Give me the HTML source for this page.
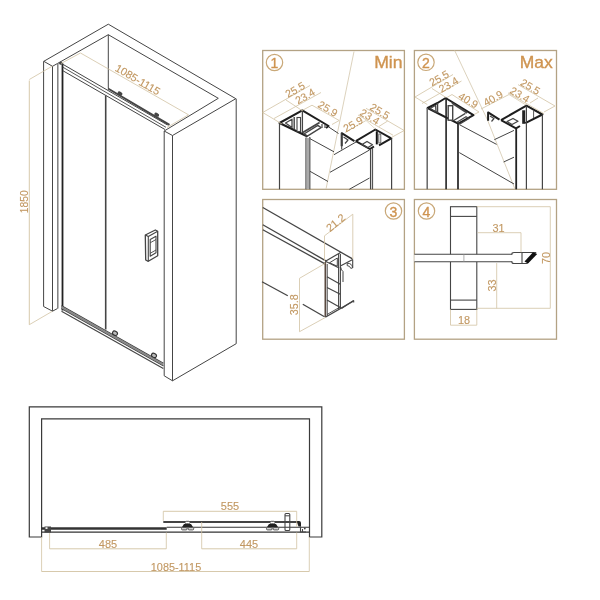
<!DOCTYPE html>
<html><head><meta charset="utf-8"><style>
html,body{margin:0;padding:0;background:#fff;}
svg{display:block;filter:blur(0.35px);}
text{font-family:"Liberation Sans",sans-serif;}
</style></head><body>
<svg width="600" height="600" viewBox="0 0 600 600">
<rect width="600" height="600" fill="#fff"/>
<polyline points="43.8,61.3 108.3,24.2 235.8,98.7" stroke="#454545" stroke-width="1.0" fill="none" stroke-linejoin="round"/>
<polyline points="52.5,66.3 108.3,34.7 218.3,98.3 164.2,131" stroke="#454545" stroke-width="1.0" fill="none" stroke-linejoin="round"/>
<line x1="43.8" y1="61.3" x2="52.5" y2="66.3" stroke="#454545" stroke-width="1.0"/>
<polyline points="164.2,131 172.5,135.5 235.8,98.7" stroke="#454545" stroke-width="1.0" fill="none" stroke-linejoin="round"/>
<line x1="108.3" y1="34.7" x2="108.3" y2="88" stroke="#454545" stroke-width="1.0"/>
<line x1="43.6" y1="61.3" x2="43.6" y2="306.5" stroke="#454545" stroke-width="1.0"/>
<line x1="52.5" y1="66.3" x2="52.5" y2="311.2" stroke="#454545" stroke-width="1.0"/>
<polyline points="43.6,306.5 52.5,311.2 57.5,308.5" stroke="#454545" stroke-width="1.0" fill="none" stroke-linejoin="round"/>
<line x1="57.8" y1="63" x2="57.8" y2="308.5" stroke="#777" stroke-width="1.4"/>
<line x1="62.5" y1="63.5" x2="62.5" y2="310.5" stroke="#222" stroke-width="1.8"/>
<line x1="164.2" y1="131" x2="164.2" y2="375.8" stroke="#454545" stroke-width="1.0"/>
<line x1="172.5" y1="135.5" x2="172.5" y2="380.8" stroke="#454545" stroke-width="1.0"/>
<line x1="236.2" y1="98.7" x2="236.2" y2="343.7" stroke="#454545" stroke-width="1.0"/>
<polyline points="164.2,375.8 172.5,380.8 236.2,343.7" stroke="#454545" stroke-width="1.0" fill="none" stroke-linejoin="round"/>
<line x1="61.5" y1="63.5" x2="167.5" y2="125.0" stroke="#454545" stroke-width="1.0"/>
<line x1="62.5" y1="67.0" x2="166.0" y2="127.3" stroke="#454545" stroke-width="0.9"/>
<line x1="63.0" y1="70.8" x2="165.0" y2="129.5" stroke="#454545" stroke-width="1.0"/>
<line x1="108" y1="88.5" x2="169.5" y2="124.8" stroke="#454545" stroke-width="2.0"/>
<circle cx="60.8" cy="63.2" r="1.6" fill="#454545"/>
<ellipse cx="120" cy="93.5" rx="2.6" ry="1.8" fill="#454545" transform="rotate(30 120 93.5)"/>
<ellipse cx="156.7" cy="114.7" rx="2.6" ry="1.8" fill="#454545" transform="rotate(30 156.7 114.7)"/>
<line x1="105.7" y1="95.5" x2="105.7" y2="329.5" stroke="#454545" stroke-width="1.6"/>
<line x1="61.5" y1="305.8" x2="163.3" y2="363.2" stroke="#333" stroke-width="1.3"/>
<line x1="61.5" y1="308.4" x2="163.3" y2="365.8" stroke="#333" stroke-width="1.3"/>
<line x1="61.5" y1="311.2" x2="163.3" y2="368.6" stroke="#454545" stroke-width="1.1"/>
<polygon points="61.5,305.8 163.3,363.2 163.3,365.8 61.5,308.4" fill="#888"/>
<ellipse cx="115" cy="333.2" rx="2.6" ry="2.0" fill="#bbb" stroke="#333" stroke-width="1.1" transform="rotate(30 115 333.2)"/>
<ellipse cx="154" cy="355.4" rx="2.6" ry="2.0" fill="#bbb" stroke="#333" stroke-width="1.1" transform="rotate(30 154 355.4)"/>
<polygon points="145.3,235 155.3,230 157.7,231.3 157.7,255.7 148.3,261.3 145.7,260" stroke="#454545" stroke-width="1.3" fill="none" stroke-linejoin="round"/>
<polyline points="145.3,235 148.3,236.6 157.7,231.3" stroke="#454545" stroke-width="1.1" fill="none" stroke-linejoin="round"/>
<line x1="148.3" y1="236.6" x2="148.3" y2="261.3" stroke="#454545" stroke-width="1.1"/>
<polygon points="150.2,239.5 156,236.2 156,252.8 150.2,256.2" stroke="#454545" stroke-width="1.1" fill="none" stroke-linejoin="round"/>
<line x1="150.2" y1="253.3" x2="156" y2="250" stroke="#454545" stroke-width="0.9"/>
<line x1="150.2" y1="242.8" x2="156" y2="239.5" stroke="#454545" stroke-width="0.9"/>
<line x1="29.3" y1="80.5" x2="29.3" y2="324.7" stroke="#d2c3a3" stroke-width="0.9"/>
<line x1="29.3" y1="79.5" x2="52.5" y2="66" stroke="#d2c3a3" stroke-width="0.8"/>
<line x1="29.3" y1="324.7" x2="52.5" y2="311.2" stroke="#d2c3a3" stroke-width="0.8"/>
<text x="24.5" y="201.8" font-size="10.3" fill="#c29862" stroke="#c29862" stroke-width="0.12" text-anchor="middle" dominant-baseline="central" transform="rotate(-90 24.5 201.8)">1850</text>
<line x1="80.5" y1="53" x2="188.5" y2="114.8" stroke="#d2c3a3" stroke-width="0.8"/>
<line x1="188.5" y1="114.8" x2="167" y2="127.5" stroke="#d2c3a3" stroke-width="0.8"/>
<line x1="80.5" y1="53" x2="61" y2="63.5" stroke="#d2c3a3" stroke-width="0.8"/>
<text x="114.3" y="70.2" font-size="10.8" fill="#c29862" stroke="#c29862" stroke-width="0.12" transform="rotate(30.5 114.3 70.2)">1085-1115</text>
<rect x="262.7" y="50.5" width="141.7" height="138.8" fill="none" stroke="#b3a284" stroke-width="1.3"/>
<rect x="414.4" y="50.5" width="142.10000000000002" height="138.8" fill="none" stroke="#b3a284" stroke-width="1.3"/>
<rect x="262.7" y="199.5" width="141.7" height="139.7" fill="none" stroke="#b3a284" stroke-width="1.3"/>
<rect x="414.4" y="199.5" width="142.10000000000002" height="139.7" fill="none" stroke="#b3a284" stroke-width="1.3"/>
<circle cx="274.5" cy="62.5" r="8.2" fill="none" stroke="#c9a878" stroke-width="1.2"/>
<text x="274.5" y="68.1" font-size="14" fill="#cf9450" stroke="#cf9450" stroke-width="0.35" text-anchor="middle">1</text>
<circle cx="426" cy="62.3" r="8.2" fill="none" stroke="#c9a878" stroke-width="1.2"/>
<text x="426" y="67.89999999999999" font-size="14" fill="#cf9450" stroke="#cf9450" stroke-width="0.35" text-anchor="middle">2</text>
<circle cx="393.5" cy="211" r="8.2" fill="none" stroke="#c9a878" stroke-width="1.2"/>
<text x="393.5" y="216.6" font-size="14" fill="#cf9450" stroke="#cf9450" stroke-width="0.35" text-anchor="middle">3</text>
<circle cx="426.5" cy="211" r="8.2" fill="none" stroke="#c9a878" stroke-width="1.2"/>
<text x="426.5" y="216.6" font-size="14" fill="#cf9450" stroke="#cf9450" stroke-width="0.35" text-anchor="middle">4</text>
<text x="374.2" y="68" font-size="16.4" fill="#cf9450" stroke="#cf9450" stroke-width="0.35" textLength="28.4" lengthAdjust="spacingAndGlyphs">Min</text>
<text x="519.8" y="68" font-size="16.4" fill="#cf9450" stroke="#cf9450" stroke-width="0.35" textLength="33" lengthAdjust="spacingAndGlyphs">Max</text>
<line x1="354" y1="51.5" x2="326" y2="189" stroke="#d8cdb5" stroke-width="0.9"/>
<polyline points="307.5,136.5 279.5,123 302.3,110.4 328.6,126 326,128" stroke="#1e1e1e" stroke-width="2.0" fill="none" stroke-linejoin="round"/>
<polygon points="285.5,123 292,119.2 292,127.5" stroke="#454545" stroke-width="1.3" fill="none" stroke-linejoin="round"/>
<line x1="294.2" y1="117" x2="294.2" y2="129.5" stroke="#454545" stroke-width="1.4"/>
<rect x="297" y="117.5" width="3.5" height="14" fill="#fff" stroke="#454545" stroke-width="1.1"/>
<line x1="302.4" y1="110.5" x2="302.4" y2="133" stroke="#454545" stroke-width="1.3"/>
<line x1="319.6" y1="122.4" x2="302.8" y2="132.6" stroke="#454545" stroke-width="1.8"/>
<polygon points="304,134 317.8,125.4 321,127.6 307.4,136.2" stroke="#454545" stroke-width="1.4" fill="none" stroke-linejoin="round"/>
<line x1="322" y1="124" x2="322" y2="128" stroke="#454545" stroke-width="1.2"/>
<line x1="325" y1="124.5" x2="325" y2="128" stroke="#454545" stroke-width="1.2"/>
<line x1="279.5" y1="123" x2="279.5" y2="189.3" stroke="#454545" stroke-width="1.2"/>
<line x1="306" y1="137.5" x2="306" y2="189.3" stroke="#454545" stroke-width="1.2"/>
<line x1="309.8" y1="137" x2="309.8" y2="189.3" stroke="#454545" stroke-width="1.2"/>
<rect x="306.6" y="138" width="2.6" height="51" fill="#aaa"/>
<line x1="310" y1="138.7" x2="334" y2="151.8" stroke="#454545" stroke-width="1.0"/>
<line x1="310" y1="171.3" x2="328" y2="181.5" stroke="#454545" stroke-width="1.0"/>
<line x1="328.7" y1="127" x2="338.5" y2="133.5" stroke="#454545" stroke-width="1.0"/>
<polyline points="341.7,146.3 341.7,133.2 354.4,141.2" stroke="#1e1e1e" stroke-width="2.0" fill="none" stroke-linejoin="round"/>
<polyline points="343.5,137 348,140 345,143.5" stroke="#454545" stroke-width="1.2" fill="none" stroke-linejoin="round"/>
<line x1="341.7" y1="133.2" x2="341.7" y2="149.5" stroke="#454545" stroke-width="1.1"/>
<polyline points="355.8,141.2 375.4,129.5 391.3,138.4 379,145.4" stroke="#1e1e1e" stroke-width="2.0" fill="none" stroke-linejoin="round"/>
<polyline points="355.8,141.2 369.8,149 374,146.5" stroke="#1e1e1e" stroke-width="2.0" fill="none" stroke-linejoin="round"/>
<polygon points="362,144.5 367,141.5 372.5,144.8 367.5,147.8" stroke="#454545" stroke-width="1.3" fill="none" stroke-linejoin="round"/>
<line x1="376.8" y1="131.3" x2="376.8" y2="144.4" stroke="#111" stroke-width="2.0"/>
<rect x="378.8" y="134" width="2" height="9" fill="#fff" stroke="#555" stroke-width="0.9"/>
<line x1="370.6" y1="149" x2="370.6" y2="189.3" stroke="#454545" stroke-width="1.3"/>
<line x1="372.6" y1="148" x2="372.6" y2="189.3" stroke="#454545" stroke-width="1.0"/>
<line x1="391.6" y1="138.4" x2="391.6" y2="189.3" stroke="#454545" stroke-width="1.2"/>
<line x1="334" y1="154.7" x2="356" y2="142" stroke="#454545" stroke-width="1.0"/>
<line x1="330" y1="172.3" x2="369.5" y2="150" stroke="#454545" stroke-width="1.0"/>
<line x1="349.3" y1="189.3" x2="369.5" y2="178" stroke="#454545" stroke-width="1.0"/>
<line x1="262.7" y1="112.5" x2="310" y2="85.5" stroke="#d2c3a3" stroke-width="0.8"/>
<line x1="274" y1="118.5" x2="321" y2="92.5" stroke="#d2c3a3" stroke-width="0.8"/>
<line x1="262.7" y1="112.5" x2="282" y2="124" stroke="#d2c3a3" stroke-width="0.8"/>
<line x1="286" y1="100" x2="302" y2="110.5" stroke="#d2c3a3" stroke-width="0.8"/>
<line x1="297" y1="107" x2="312" y2="104.5" stroke="#d2c3a3" stroke-width="0"/>
<line x1="312" y1="105.2" x2="339.2" y2="120.5" stroke="#d2c3a3" stroke-width="0.8"/>
<line x1="312" y1="105.2" x2="301.6" y2="110.8" stroke="#d2c3a3" stroke-width="0.8"/>
<line x1="339.2" y1="120.5" x2="332" y2="124.5" stroke="#d2c3a3" stroke-width="0.8"/>
<text x="295" y="89.5" font-size="10.6" fill="#c29862" stroke="#c29862" stroke-width="0.12" text-anchor="middle" dominant-baseline="central" transform="rotate(-30 295 89.5)">25.5</text>
<text x="305" y="96" font-size="10.6" fill="#c29862" stroke="#c29862" stroke-width="0.12" text-anchor="middle" dominant-baseline="central" transform="rotate(-30 305 96)">23.4</text>
<text x="328" y="108.5" font-size="10.6" fill="#c29862" stroke="#c29862" stroke-width="0.12" text-anchor="middle" dominant-baseline="central" transform="rotate(30 328 108.5)">25.9</text>
<line x1="345" y1="132.5" x2="366" y2="120.5" stroke="#d2c3a3" stroke-width="0.8"/>
<line x1="366" y1="120.5" x2="375.7" y2="129.3" stroke="#d2c3a3" stroke-width="0.6"/>
<line x1="366" y1="108.3" x2="404.2" y2="130.5" stroke="#d2c3a3" stroke-width="0.8"/>
<line x1="358" y1="115" x2="393" y2="135.2" stroke="#d2c3a3" stroke-width="0.8"/>
<line x1="379" y1="126.4" x2="387.7" y2="121" stroke="#d2c3a3" stroke-width="0.8"/>
<line x1="391.4" y1="137.5" x2="404.2" y2="130.5" stroke="#d2c3a3" stroke-width="0.8"/>
<text x="353" y="124" font-size="10.6" fill="#c29862" stroke="#c29862" stroke-width="0.12" text-anchor="middle" dominant-baseline="central" transform="rotate(-30 353 124)">25.9</text>
<text x="370" y="116.5" font-size="10.6" fill="#c29862" stroke="#c29862" stroke-width="0.12" text-anchor="middle" dominant-baseline="central" transform="rotate(30 370 116.5)">23.4</text>
<text x="380" y="111" font-size="10.6" fill="#c29862" stroke="#c29862" stroke-width="0.12" text-anchor="middle" dominant-baseline="central" transform="rotate(30 380 111)">25.5</text>
<line x1="454.7" y1="50.5" x2="487.5" y2="120" stroke="#d8cdb5" stroke-width="0.9"/>
<line x1="487.5" y1="120" x2="515" y2="189.3" stroke="#d8cdb5" stroke-width="0.9"/>
<polyline points="458.2,123.7 427.6,108 437.5,103 445.6,98 473.5,115.2 458.2,123.7" stroke="#1e1e1e" stroke-width="2.0" fill="none" stroke-linejoin="round"/>
<polygon points="430,108.5 435.5,105.5 436,112" stroke="#454545" stroke-width="1.2" fill="none" stroke-linejoin="round"/>
<line x1="437.5" y1="103" x2="437.5" y2="113" stroke="#454545" stroke-width="1.5"/>
<line x1="446.1" y1="98" x2="446.1" y2="189.3" stroke="#222" stroke-width="1.6"/>
<rect x="448.2" y="105.7" width="4.5" height="14.5" fill="#fff" stroke="#454545" stroke-width="1.4"/>
<line x1="452" y1="103" x2="467.2" y2="113" stroke="#454545" stroke-width="1.8"/>
<line x1="453.7" y1="120.5" x2="465.4" y2="113.4" stroke="#454545" stroke-width="1.3"/>
<polygon points="457.3,122 466,116.7 469,118.5 460.3,123.8" stroke="#454545" stroke-width="1.2" fill="none" stroke-linejoin="round"/>
<line x1="427.2" y1="108" x2="427.2" y2="189.3" stroke="#666" stroke-width="1.5"/>
<line x1="458" y1="123.7" x2="458" y2="189.3" stroke="#222" stroke-width="1.7"/>
<line x1="459.3" y1="124.6" x2="496.6" y2="144.4" stroke="#454545" stroke-width="1.0"/>
<line x1="459.3" y1="152.6" x2="514" y2="184" stroke="#454545" stroke-width="1.0"/>
<line x1="494.3" y1="139.7" x2="514" y2="130.4" stroke="#454545" stroke-width="1.0"/>
<line x1="503.6" y1="162" x2="514" y2="157.2" stroke="#454545" stroke-width="1.0"/>
<polyline points="488.1,120.7 488.1,112.4 499.5,119.6" stroke="#1e1e1e" stroke-width="2.0" fill="none" stroke-linejoin="round"/>
<polyline points="490,116 494,118.5 491.5,121.5" stroke="#454545" stroke-width="1.2" fill="none" stroke-linejoin="round"/>
<polyline points="501,120.1 526.4,105.7 542.4,114.5 525.3,123.2" stroke="#1e1e1e" stroke-width="2.0" fill="none" stroke-linejoin="round"/>
<polyline points="501,120.1 516,128.4 520,126" stroke="#1e1e1e" stroke-width="2.0" fill="none" stroke-linejoin="round"/>
<polygon points="507,121.5 513,118.5 518,121.3 512,124.5" stroke="#454545" stroke-width="1.3" fill="none" stroke-linejoin="round"/>
<rect x="522.2" y="110.3" width="3" height="13.5" fill="#222"/>
<line x1="526.4" y1="105.7" x2="526.4" y2="189.3" stroke="#454545" stroke-width="1.2"/>
<line x1="533.6" y1="111" x2="533.6" y2="118" stroke="#555" stroke-width="1.0"/>
<line x1="516.2" y1="128.4" x2="516.2" y2="189.3" stroke="#222" stroke-width="1.8"/>
<line x1="542.4" y1="114.5" x2="542.4" y2="189.3" stroke="#454545" stroke-width="1.2"/>
<line x1="415" y1="97" x2="453" y2="74.5" stroke="#d2c3a3" stroke-width="0.8"/>
<line x1="422" y1="103.5" x2="461.5" y2="81" stroke="#d2c3a3" stroke-width="0.8"/>
<line x1="415" y1="97" x2="427.3" y2="104.5" stroke="#d2c3a3" stroke-width="0.8"/>
<line x1="446" y1="92" x2="446" y2="98" stroke="#d2c3a3" stroke-width="0"/>
<line x1="432" y1="88.5" x2="446" y2="97.5" stroke="#d2c3a3" stroke-width="0.8"/>
<line x1="452" y1="94.5" x2="479" y2="112" stroke="#d2c3a3" stroke-width="0.8"/>
<line x1="447" y1="97.5" x2="452" y2="94.5" stroke="#d2c3a3" stroke-width="0.8"/>
<line x1="479" y1="112" x2="474" y2="114.5" stroke="#d2c3a3" stroke-width="0.8"/>
<text x="439" y="78" font-size="10.6" fill="#c29862" stroke="#c29862" stroke-width="0.12" text-anchor="middle" dominant-baseline="central" transform="rotate(-30 439 78)">25.5</text>
<text x="448.5" y="84.5" font-size="10.6" fill="#c29862" stroke="#c29862" stroke-width="0.12" text-anchor="middle" dominant-baseline="central" transform="rotate(-30 448.5 84.5)">23.4</text>
<text x="468.5" y="100" font-size="10.6" fill="#c29862" stroke="#c29862" stroke-width="0.12" text-anchor="middle" dominant-baseline="central" transform="rotate(30 468.5 100)">40.9</text>
<line x1="481" y1="109" x2="509" y2="94.5" stroke="#d2c3a3" stroke-width="0.8"/>
<line x1="509" y1="94.5" x2="526" y2="105" stroke="#d2c3a3" stroke-width="0.7"/>
<line x1="518" y1="84.6" x2="555" y2="106" stroke="#d2c3a3" stroke-width="0.8"/>
<line x1="508" y1="92.9" x2="544" y2="113.7" stroke="#d2c3a3" stroke-width="0.8"/>
<line x1="530" y1="103" x2="538" y2="98" stroke="#d2c3a3" stroke-width="0.8"/>
<line x1="544" y1="112" x2="555" y2="106" stroke="#d2c3a3" stroke-width="0.8"/>
<text x="493" y="98" font-size="10.6" fill="#c29862" stroke="#c29862" stroke-width="0.12" text-anchor="middle" dominant-baseline="central" transform="rotate(-30 493 98)">40.9</text>
<text x="520" y="94.5" font-size="10.6" fill="#c29862" stroke="#c29862" stroke-width="0.12" text-anchor="middle" dominant-baseline="central" transform="rotate(30 520 94.5)">23.4</text>
<text x="530.5" y="86.5" font-size="10.6" fill="#c29862" stroke="#c29862" stroke-width="0.12" text-anchor="middle" dominant-baseline="central" transform="rotate(30 530.5 86.5)">25.5</text>
<line x1="262.8" y1="207.5" x2="352.5" y2="258.9" stroke="#454545" stroke-width="1.3"/>
<line x1="262.8" y1="224.7" x2="326.3" y2="261.1" stroke="#454545" stroke-width="1.3"/>
<line x1="262.8" y1="229.7" x2="325.5" y2="264.1" stroke="#454545" stroke-width="1.3"/>
<line x1="325.4" y1="261.2" x2="341" y2="252.2" stroke="#454545" stroke-width="1.2"/>
<line x1="325.4" y1="261.2" x2="339.2" y2="268.1" stroke="#454545" stroke-width="1.1"/>
<polygon points="329.5,262.8 337.3,258 337.3,266.2" stroke="#454545" stroke-width="1.0" fill="none" stroke-linejoin="round"/>
<line x1="340.4" y1="266" x2="352.7" y2="259.4" stroke="#454545" stroke-width="1.1"/>
<line x1="352.7" y1="259.4" x2="352.7" y2="267.8" stroke="#454545" stroke-width="1.1"/>
<path d="M347.2,263.2 Q352,263.2 352.7,267.8 L350.8,268.4 Q350,265.8 347.2,265.6 Z" fill="none" stroke="#454545" stroke-width="1.0"/>
<path d="M340.6,267 Q341.2,270.5 343,271.5 L343,282" fill="none" stroke="#454545" stroke-width="1.0"/>
<line x1="325.3" y1="262" x2="325.3" y2="317" stroke="#5a4a40" stroke-width="1.6"/>
<line x1="327.2" y1="264" x2="327.2" y2="316" stroke="#454545" stroke-width="1.0"/>
<line x1="338.6" y1="254" x2="338.6" y2="309" stroke="#454545" stroke-width="1.1"/>
<line x1="340.4" y1="254" x2="340.4" y2="309" stroke="#454545" stroke-width="1.1"/>
<line x1="327" y1="276.7" x2="340.3" y2="284.2" stroke="#454545" stroke-width="1.2"/>
<line x1="327" y1="287.5" x2="340.3" y2="294.2" stroke="#454545" stroke-width="1.2"/>
<line x1="327" y1="300" x2="340.3" y2="307.5" stroke="#454545" stroke-width="1.2"/>
<line x1="325.3" y1="317.2" x2="353.7" y2="300.9" stroke="#454545" stroke-width="1.3"/>
<line x1="341.5" y1="308.5" x2="353.7" y2="300.4" stroke="#454545" stroke-width="1.1"/>
<line x1="353.7" y1="300.4" x2="353.7" y2="302.5" stroke="#454545" stroke-width="1.1"/>
<line x1="327" y1="314.5" x2="341" y2="306.5" stroke="#454545" stroke-width="0.9"/>
<line x1="262" y1="281.7" x2="287.8" y2="295.8" stroke="#454545" stroke-width="1.3"/>
<line x1="302.8" y1="304.2" x2="324.5" y2="316.7" stroke="#454545" stroke-width="1.3"/>
<line x1="324.5" y1="235.8" x2="352.8" y2="214.2" stroke="#d2c3a3" stroke-width="0.8"/>
<line x1="324.5" y1="235.8" x2="324.5" y2="261" stroke="#d2c3a3" stroke-width="0.8"/>
<line x1="352.8" y1="214.2" x2="352.8" y2="259" stroke="#d2c3a3" stroke-width="0.8"/>
<text x="335.5" y="222.5" font-size="10.8" fill="#c29862" stroke="#c29862" stroke-width="0.12" text-anchor="middle" dominant-baseline="central" transform="rotate(-39.5 335.5 222.5)">21.2</text>
<line x1="299.5" y1="278.3" x2="299.5" y2="331.7" stroke="#d2c3a3" stroke-width="0.8"/>
<line x1="299.5" y1="278.3" x2="325.3" y2="263.3" stroke="#d2c3a3" stroke-width="0.8"/>
<line x1="299.5" y1="331.7" x2="325.3" y2="317.5" stroke="#d2c3a3" stroke-width="0.8"/>
<text x="294.3" y="304.8" font-size="10.8" fill="#c29862" stroke="#c29862" stroke-width="0.12" text-anchor="middle" dominant-baseline="central" transform="rotate(-90 294.3 304.8)">35.8</text>
<rect x="450.5" y="206.7" width="26.3" height="102.7" fill="none" stroke="#454545" stroke-width="1.1"/>
<line x1="450.5" y1="216.4" x2="476.8" y2="216.4" stroke="#454545" stroke-width="1.1"/>
<line x1="450.5" y1="300.1" x2="476.8" y2="300.1" stroke="#454545" stroke-width="1.1"/>
<rect x="414.4" y="254.3" width="98" height="7.6" fill="#fff" stroke="none"/>
<line x1="414.4" y1="254.3" x2="512.3" y2="254.3" stroke="#454545" stroke-width="1.1"/>
<line x1="414.4" y1="261.7" x2="512.3" y2="261.7" stroke="#454545" stroke-width="1.1"/>
<line x1="463.9" y1="254.3" x2="463.9" y2="261.7" stroke="#999" stroke-width="0.8"/>
<path d="M514,252.5 H522 V263.5 H514 Q511.5,263.5 512,261.5 M514,252.5 Q511.5,252.5 512,254.5" fill="none" stroke="#454545" stroke-width="1.1"/>
<path d="M522,252.5 H535.5 L527,263.5 H522" fill="none" stroke="#454545" stroke-width="1.1"/>
<path d="M533,252.3 L537.2,254 L528,263.5 L524.5,261.5 Z" fill="#111"/>
<line x1="476.8" y1="206.7" x2="550.3" y2="206.7" stroke="#d2c3a3" stroke-width="0.8"/>
<line x1="476.8" y1="308.3" x2="550.3" y2="308.3" stroke="#d2c3a3" stroke-width="0.8"/>
<line x1="550.3" y1="206.7" x2="550.3" y2="308.3" stroke="#d2c3a3" stroke-width="0.8"/>
<text x="545.6" y="258" font-size="10.9" fill="#c29862" stroke="#c29862" stroke-width="0.12" text-anchor="middle" dominant-baseline="central" transform="rotate(-90 545.6 258)">70</text>
<line x1="477.7" y1="232.7" x2="521" y2="232.7" stroke="#d2c3a3" stroke-width="0.8"/>
<line x1="521" y1="232.7" x2="521" y2="252.3" stroke="#d2c3a3" stroke-width="0.8"/>
<text x="498.6" y="228" font-size="10.9" fill="#c29862" stroke="#c29862" stroke-width="0.12" text-anchor="middle" dominant-baseline="central">31</text>
<line x1="496.7" y1="263.1" x2="496.7" y2="308.3" stroke="#d2c3a3" stroke-width="0.8"/>
<text x="492" y="285.5" font-size="10.9" fill="#c29862" stroke="#c29862" stroke-width="0.12" text-anchor="middle" dominant-baseline="central" transform="rotate(-90 492 285.5)">33</text>
<line x1="450.5" y1="309.4" x2="450.5" y2="325.2" stroke="#d2c3a3" stroke-width="0.8"/>
<line x1="476.8" y1="309.4" x2="476.8" y2="325.2" stroke="#d2c3a3" stroke-width="0.8"/>
<line x1="450.5" y1="325.2" x2="476.8" y2="325.2" stroke="#d2c3a3" stroke-width="0.8"/>
<text x="464" y="320" font-size="10.9" fill="#c29862" stroke="#c29862" stroke-width="0.12" text-anchor="middle" dominant-baseline="central">18</text>
<path d="M29.3,537 V406.8 H321.8 V537 H309.5 V418.8 H41.6 V537 Z" fill="none" stroke="#3a3a3a" stroke-width="1.2"/>
<line x1="41.6" y1="528.5" x2="166.7" y2="528.5" stroke="#333" stroke-width="2.4"/>
<line x1="41.6" y1="532.2" x2="309.5" y2="532.2" stroke="#333" stroke-width="1.2"/>
<line x1="166.7" y1="527.2" x2="309.5" y2="527.2" stroke="#333" stroke-width="1.1"/>
<line x1="163.3" y1="522.0" x2="298" y2="522.0" stroke="#444" stroke-width="2.2"/>
<rect x="44.5" y="526.5" width="6.5" height="6" fill="#454545"/>
<rect x="45.5" y="527.3" width="2" height="1.6" fill="#fff"/>
<rect x="185.0" y="521.3" width="5" height="2.4" rx="1.2" fill="#fff" stroke="#454545" stroke-width="0.9"/>
<path d="M184.0,524 H191.0 L193.0,527 H182.0 Z" fill="#222"/>
<rect x="181.5" y="527.6" width="5.6" height="2.3" rx="1" fill="#ddd" stroke="#454545" stroke-width="0.9"/>
<rect x="188.1" y="527.6" width="5.6" height="2.3" rx="1" fill="#ddd" stroke="#454545" stroke-width="0.9"/>
<rect x="270.0" y="521.3" width="5" height="2.4" rx="1.2" fill="#fff" stroke="#454545" stroke-width="0.9"/>
<path d="M269.0,524 H276.0 L278.0,527 H267.0 Z" fill="#222"/>
<rect x="266.5" y="527.6" width="5.6" height="2.3" rx="1" fill="#ddd" stroke="#454545" stroke-width="0.9"/>
<rect x="273.1" y="527.6" width="5.6" height="2.3" rx="1" fill="#ddd" stroke="#454545" stroke-width="0.9"/>
<rect x="285" y="513.5" width="4.8" height="17" rx="1" fill="none" stroke="#454545" stroke-width="1.1"/>
<line x1="285" y1="515.8" x2="289.8" y2="515.8" stroke="#454545" stroke-width="1.0"/>
<path d="M296.5,521 H299 Q301,521 301,523 V526.5 H298.5 Z" fill="#222"/>
<path d="M300.5,526.5 V532 H306 M302.5,532 V529" fill="none" stroke="#454545" stroke-width="1.1"/>
<circle cx="304.8" cy="528.5" r="0.9" fill="#454545"/>
<line x1="163.3" y1="511.3" x2="296.7" y2="511.3" stroke="#d2c3a3" stroke-width="0.9"/>
<line x1="163.3" y1="511.3" x2="163.3" y2="520.8" stroke="#d2c3a3" stroke-width="0.8"/>
<line x1="296.7" y1="511.3" x2="296.7" y2="527" stroke="#d2c3a3" stroke-width="0.8"/>
<text x="230" y="506.3" font-size="11" fill="#c29862" stroke="#c29862" stroke-width="0.12" text-anchor="middle" dominant-baseline="central">555</text>
<line x1="49.6" y1="548.8" x2="166.3" y2="548.8" stroke="#d2c3a3" stroke-width="0.9"/>
<line x1="49.6" y1="533" x2="49.6" y2="548.8" stroke="#d2c3a3" stroke-width="0.8"/>
<line x1="166.3" y1="532.5" x2="166.3" y2="548.8" stroke="#d2c3a3" stroke-width="0.8"/>
<text x="108" y="544" font-size="11" fill="#c29862" stroke="#c29862" stroke-width="0.12" text-anchor="middle" dominant-baseline="central">485</text>
<line x1="201.7" y1="548.8" x2="296.7" y2="548.8" stroke="#d2c3a3" stroke-width="0.9"/>
<line x1="201.7" y1="522" x2="201.7" y2="548.8" stroke="#d2c3a3" stroke-width="0.8"/>
<line x1="296.7" y1="532.5" x2="296.7" y2="548.8" stroke="#d2c3a3" stroke-width="0.8"/>
<text x="249" y="544" font-size="11" fill="#c29862" stroke="#c29862" stroke-width="0.12" text-anchor="middle" dominant-baseline="central">445</text>
<line x1="41.6" y1="571.5" x2="309.3" y2="571.5" stroke="#d2c3a3" stroke-width="0.9"/>
<line x1="41.6" y1="537" x2="41.6" y2="571.5" stroke="#d2c3a3" stroke-width="0.8"/>
<line x1="309.3" y1="537" x2="309.3" y2="571.5" stroke="#d2c3a3" stroke-width="0.8"/>
<text x="176" y="566.5" font-size="10.9" fill="#c29862" stroke="#c29862" stroke-width="0.12" text-anchor="middle" dominant-baseline="central">1085-1115</text>
</svg></body></html>
